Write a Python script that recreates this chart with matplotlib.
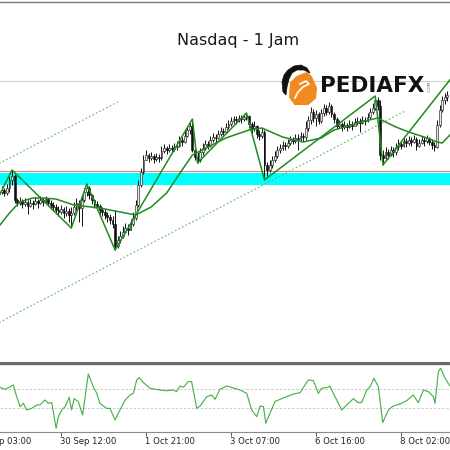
import matplotlib
matplotlib.use('Agg')
import matplotlib.pyplot as plt
from matplotlib.patches import Polygon
from matplotlib.transforms import blended_transform_factory
import numpy as np

# hourly candles, bar index = position on the time axis
first_open = 24912
closes = [
    24916, 24920, 24914, 24924, 24940, 24948, 24900, 24894, 24898, 24892,
    24896, 24888, 24894, 24892, 24898, 24894, 24900, 24896, 24902, 24894,
    24890, 24886, 24880, 24876, 24882, 24874, 24878, 24870, 24874, 24886,
    24894, 24884, 24900, 24916, 24924, 24910, 24900, 24892, 24888, 24880,
    24876, 24870, 24866, 24860, 24852, 24808, 24820, 24828, 24836, 24844,
    24840, 24852, 24864, 24890, 24930, 24956, 24980, 24990, 24984, 24988,
    24982, 24986, 24984, 24998, 25004, 25000, 25004, 25002, 25006, 25008,
    25020, 25016, 25028, 25040, 25048, 25000, 24986, 24980, 24996, 25004,
    25012, 25008, 25020, 25026, 25024, 25032, 25038, 25036, 25046, 25052,
    25058, 25062, 25060, 25064, 25062, 25066, 25068, 25052, 25044, 25048,
    25032, 25028, 25036, 24970, 24960, 24970, 24980, 24988, 25000, 25004,
    25010, 25008, 25014, 25020, 25018, 25024, 25022, 25028, 25026, 25044,
    25060, 25076, 25064, 25072, 25058, 25074, 25084, 25076, 25088, 25072,
    25062, 25048, 25052, 25046, 25050, 25046, 25052, 25048, 25056, 25058,
    25054, 25060, 25058, 25066, 25076, 25084, 25100, 25088, 24990, 24984,
    24996, 24990, 25000, 24996, 25006, 25012, 25008, 25018, 25014, 25020,
    25016, 25022, 25008, 25014, 25020, 25018, 25024, 25016, 25010, 25006,
    25050, 25080, 25100, 25106, 25110]
highs = [
    24924, 24928, 24924, 24932, 24948, 24960, 24952, 24904, 24906, 24902,
    24904, 24900, 24902, 24900, 24906, 24902, 24908, 24904, 24908, 24904,
    24900, 24896, 24892, 24888, 24890, 24886, 24888, 24884, 24886, 24896,
    24904, 24900, 24910, 24924, 24932, 24928, 24912, 24902, 24898, 24892,
    24886, 24882, 24876, 24872, 24868, 24880, 24828, 24838, 24848, 24854,
    24852, 24862, 24876, 24900, 24940, 24964, 24990, 25000, 24994, 24996,
    24992, 24994, 24992, 25008, 25012, 25008, 25012, 25010, 25014, 25018,
    25028, 25026, 25038, 25048, 25056, 25062, 25004, 24996, 25004, 25014,
    25020, 25018, 25028, 25034, 25032, 25040, 25046, 25044, 25054, 25060,
    25066, 25068, 25068, 25070, 25070, 25072, 25074, 25070, 25056, 25058,
    25050, 25040, 25044, 25040, 24976, 24980, 24988, 24998, 25008, 25012,
    25018, 25016, 25022, 25028, 25026, 25032, 25032, 25036, 25034, 25058,
    25068, 25086, 25082, 25080, 25076, 25082, 25092, 25090, 25096, 25092,
    25076, 25066, 25060, 25056, 25058, 25054, 25060, 25058, 25064, 25066,
    25064, 25068, 25066, 25074, 25084, 25094, 25108, 25106, 25100, 25000,
    25006, 25002, 25008, 25006, 25014, 25022, 25018, 25026, 25024, 25028,
    25026, 25030, 25026, 25022, 25028, 25026, 25030, 25026, 25022, 25016,
    25060, 25090, 25108, 25114, 25118]
lows = [
    24908, 24912, 24908, 24910, 24916, 24930, 24894, 24888, 24890, 24884,
    24888, 24872, 24886, 24882, 24890, 24884, 24892, 24888, 24894, 24888,
    24882, 24878, 24872, 24868, 24872, 24864, 24868, 24856, 24844, 24870,
    24880, 24856, 24848, 24896, 24908, 24902, 24892, 24884, 24880, 24872,
    24868, 24862, 24856, 24852, 24844, 24800, 24804, 24814, 24824, 24834,
    24830, 24840, 24848, 24860, 24886, 24926, 24952, 24980, 24976, 24980,
    24974, 24978, 24976, 24980, 24994, 24992, 24996, 24994, 24998, 25000,
    25006, 25008, 25014, 25026, 25032, 24996, 24980, 24974, 24976, 24990,
    25000, 25002, 25006, 25016, 25016, 25022, 25028, 25030, 25034, 25042,
    25048, 25054, 25052, 25056, 25054, 25058, 25060, 25044, 25034, 25038,
    25024, 25020, 25024, 24940, 24948, 24956, 24964, 24976, 24984, 24994,
    25000, 25000, 25004, 25010, 25012, 25014, 25000, 25018, 25018, 25020,
    25038, 25052, 25056, 25048, 25052, 25054, 25068, 25070, 25072, 25066,
    25054, 25042, 25044, 25038, 25042, 25038, 25044, 25040, 25048, 25050,
    25036, 25052, 25050, 25056, 25062, 25072, 25080, 25080, 24980, 24970,
    24980, 24982, 24988, 24986, 24990, 25000, 25002, 25006, 25006, 25010,
    25008, 25014, 25000, 25006, 25012, 25008, 25014, 25010, 25002, 24998,
    25004, 25046, 25076, 25092, 25098]

# zigzag pivots
zz_bar = [-3, 5, 28, 34, 45, 75, 77, 96, 103, 146, 149, 178]
zz_price = [24878, 24960, 24844, 24932, 24800, 25062, 24974, 25074, 24940, 25108, 24970, 25160]

# moving average
ma_bar = [0, 4, 8, 13, 17, 22, 29, 39, 49, 53, 59, 65, 71, 75, 81, 88, 97, 102,
          110, 118, 125, 130, 137, 142, 147, 150, 154, 159, 165, 170, 172, 175]
ma_price = [24848, 24874, 24896, 24904, 24904, 24902, 24890, 24884, 24874, 24870,
            24886, 24914, 24960, 24990, 25006, 25024, 25040, 25044, 25026, 25016,
            25024, 25040, 25050, 25058, 25064, 25056, 25046, 25036, 25026, 25016,
            25014, 25030]

# channel and levels
chan_lo_bar, chan_lo_price = [0, 158], [24655, 25079]
chan_hi_bar, chan_hi_price = [0, 46], [24973, 25096]
gray_level = 25138
red_level = 24958
zone_lo, zone_hi = 24930, 24954

# oscillator (lower window)
osc_bar = [0.3, 2.3, 5.5, 6.8, 8.1, 9.4, 10.7, 12.6, 14.6, 15.8, 17.8, 19.1, 20.4,
           22.1, 23.0, 24.3, 25.6, 27.2, 28.1, 29.1, 30.7, 32.4, 34.6, 36.6, 37.9,
           39.1, 41.7, 43.0, 45.0, 46.9, 48.9, 50.8, 52.1, 53.4, 54.4, 56.0, 58.6,
           62.4, 65.0, 67.6, 68.9, 70.2, 71.5, 73.4, 74.7, 76.7, 78.0, 80.6, 82.5,
           83.8, 85.7, 88.3, 90.9, 93.5, 96.1, 98.0, 100.0, 101.3, 102.6, 103.5,
           105.1, 107.1, 108.4, 111.6, 114.2, 116.8, 120.0, 122.0, 123.9, 125.2,
           127.8, 128.4, 129.7, 133.0, 134.9, 137.5, 139.4, 140.7, 142.7, 144.0,
           145.5, 147.2, 148.9, 151.1, 153.0, 155.6, 158.2, 160.8, 162.7, 164.7,
           166.6, 168.6, 169.2, 170.5, 171.4, 173.1, 175.0]
osc_val = [118, 96, 142, 19, -86, -51, -121, -104, -68, -68, -16, -51, -44,
           -314, -191, -121, -86, 12, -121, -2, -33, -174, 258, 118, 54,
           -51, -104, -104, -226, -121, -16, 37, 54, 195, 219, 167, 107,
           89, 82, 89, 72, 132, 118, 177, 177, -104, -79, 19, 37,
           -9, 96, 132, 111, 89, 54, -121, -191, -79, -86, -261,
           -156, -33, -16, 19, 47, 61, 195, 188, 54, 107,
           118, 132, 54, -121, -68, -2, -44, -44, 89, 125,
           212, 125, -254, -121, -79, -58, -23, 37, -44, 89,
           72, 19, -51, 282, 318, 212, 132]
osc_levels = [100, -100]

tick_bars = [-9, 24, 57, 90, 123, 156]
tick_labels = ['29 Sep 03:00', '30 Sep 12:00', '1 Oct 21:00', '3 Oct 07:00',
               '6 Oct 16:00', '8 Oct 02:00']

fig = plt.figure(figsize=(4.5, 4.5), dpi=100)
xlim = (0.32, 175.02)

ax = fig.add_axes([0, 0.19444, 1, 0.80222])
ax.set_xlim(*xlim)
ax.set_ylim(24575, 25297)

bars = np.arange(len(closes))
closes_a = np.array(closes)
opens_a = np.array([first_open] + closes[:-1])
up = closes_a >= opens_a

ax.axhspan(zone_lo, zone_hi, color='#00ffff', lw=0, zorder=1)
ax.axhline(red_level, color='#f07878', lw=0.8, zorder=1)
ax.axhline(gray_level, color='#cfcfcf', lw=0.8, zorder=1)
ax.plot(chan_lo_bar, chan_lo_price, color='#5cb85c', lw=0.8, ls=(0, (1.5, 2)), zorder=2)
ax.plot(chan_hi_bar, chan_hi_price, color='#5cb85c', lw=0.8, ls=(0, (1.5, 2)), zorder=2)

ax.vlines(bars, lows, highs, color='#111111', lw=0.7, zorder=3)
body_lo = np.minimum(opens_a, closes_a)
body_h = np.abs(closes_a - opens_a)
ax.bar(bars[up], body_h[up], bottom=body_lo[up], width=0.7, color='#e8e8e8',
       edgecolor='#222222', linewidth=0.45, zorder=4)
ax.bar(bars[~up], body_h[~up], bottom=body_lo[~up], width=0.7, color='#111111',
       edgecolor='#111111', linewidth=0.45, zorder=4)

ax.plot(ma_bar, ma_price, color='#1e8b1e', lw=1.1, zorder=5)
ax.plot(zz_bar, zz_price, color='#1e8b1e', lw=1.1, zorder=5)

ax.set_xticks([])
ax.set_yticks([])
for s in ['left', 'right']:
    ax.spines[s].set_visible(False)
ax.spines['top'].set_color('#7a7a7a')
ax.spines['top'].set_linewidth(1.0)
ax.spines['bottom'].set_color('#6a6a6a')
ax.spines['bottom'].set_linewidth(1.5)

osc = fig.add_axes([0, 0.04, 1, 0.15111])
osc.set_xlim(*xlim)
osc.set_ylim(-353, 363)
for lv in osc_levels:
    osc.axhline(lv, color='#c4c4c4', lw=0.6, ls=(0, (3, 2)))
osc.plot(osc_bar, osc_val, color='#45ac45', lw=0.8)
osc.set_yticks([])
osc.set_xticks(tick_bars[1:])
osc.set_xticklabels([''] * (len(tick_bars) - 1))
osc.tick_params(axis='x', length=3, width=0.7, color='#555555')
for s in ['left', 'right']:
    osc.spines[s].set_visible(False)
osc.spines['top'].set_color('#6a6a6a')
osc.spines['top'].set_linewidth(1.0)
osc.spines['bottom'].set_color('#8a8a8a')
osc.spines['bottom'].set_linewidth(0.8)
trans = blended_transform_factory(osc.transData, osc.transAxes)
for b, lab in zip(tick_bars, tick_labels):
    # first label starts left of the window, as in the terminal screenshot
    osc.text(b - 0.3, -0.135, lab, transform=trans, ha='left', va='center',
             fontsize=6.1, color='#222222', clip_on=False)

fig.text(238 / 450, 1 - 40 / 450, 'Nasdaq - 1 Jam', ha='center', va='center',
         fontsize=11.5, color='#1a1a1a')

# logo overlay, in pixel units
ov = fig.add_axes([0, 0, 1, 1])
ov.set_xlim(0, 450)
ov.set_ylim(450, 0)
ov.axis('off')
ov.add_patch(Polygon([(291, 83), (297, 77), (307, 73), (311, 77), (316, 88), (315, 98),
                      (308, 104), (295, 104), (290, 97)], closed=True,
                     facecolor='#f28a22', edgecolor='#f28a22', lw=1.5, joinstyle='round'))
ov.plot([295, 298, 303, 309, 306, 300], [98, 92, 87, 84, 81, 84], color='white', lw=1.2)
ov.add_patch(Polygon([(282, 82), (284, 75), (288, 70), (294, 66), (301, 65), (307, 68),
                      (310, 73), (304, 70), (297, 70), (292, 73), (289, 79), (287, 87),
                      (286, 95), (283, 92)], closed=True,
                     facecolor='#111111', edgecolor='#111111', lw=0.5))
ov.text(320, 86, 'PEDIAFX', ha='left', va='center', fontsize=15.5,
        fontweight='bold', color='#111111')
ov.text(430, 86, '.COM', ha='center', va='center', rotation=90, fontsize=3.2,
        color='#666666')

fig.savefig('out.png', dpi=100)
